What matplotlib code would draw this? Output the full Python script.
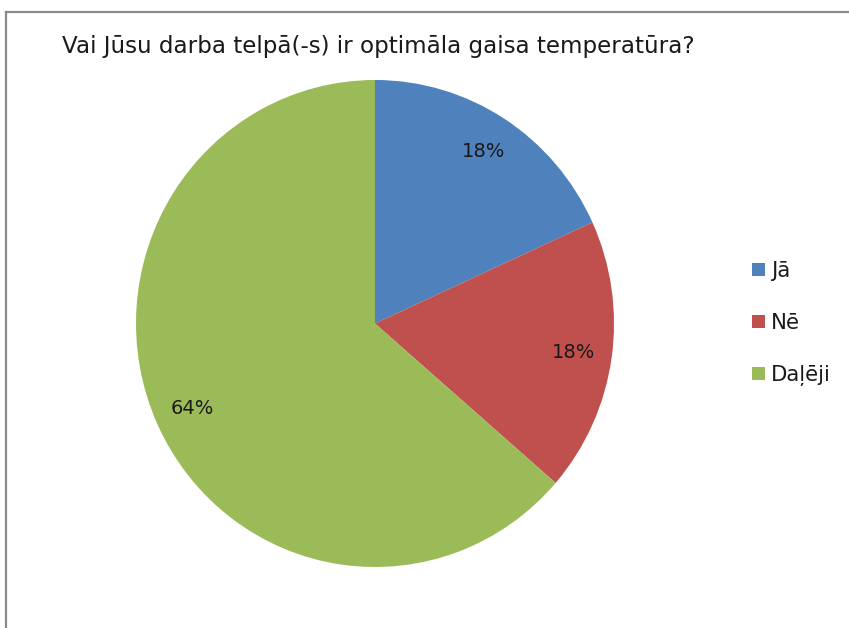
import numpy as np
import matplotlib
matplotlib.use("Agg")
import matplotlib.pyplot as plt
from matplotlib.lines import Line2D

# Chart data (counts read back from slice angles: 2 / 2 / 7)
labels = ["Jā", "Nē", "Daļēji"]
counts = [2, 2, 7]
colors = ["#4F81BD", "#C0504D", "#9BBB59"]
title = "Vai Jūsu darba telpā(-s) ir optimāla gaisa temperatūra?"

plt.rcParams['font.family'] = ['DejaVu Sans']

W, H = 849, 628
fig = plt.figure(figsize=(W/100, H/100), dpi=100)

# pie centre ~(375,323.5) px, the source image is slightly stretched vertically
cx, cy, rx, ry = 375, 323.5, 239, 243.5
ax = fig.add_axes([(cx - rx)/W, (H - cy - ry)/H, 2*rx/W, 2*ry/H])
wedges, texts, autotexts = ax.pie(counts, colors=colors, startangle=90, counterclock=False,
                                  autopct=lambda p: "%d%%" % round(p), pctdistance=0.84,
                                  radius=1.0, wedgeprops=dict(linewidth=0))
for t in autotexts:
    t.set_fontsize(14)
    t.set_color("#1a1a1a")
ax.set_xlim(-1, 1)
ax.set_ylim(-1, 1)
ax.set_aspect('auto')
ax.axis('off')

# title
fig.text(62/W, 1 - 53.5/H, title, fontsize=16.6, color="#1a1a1a", ha='left', va='baseline')

# legend
leg = fig.legend(wedges, labels, loc='upper left', bbox_to_anchor=(752/W, 1 - 261/H),
                 frameon=False, fontsize=15.3, handlelength=0.6, handleheight=0.6,
                 handletextpad=0.3, labelspacing=1.5, borderpad=0, borderaxespad=0)
for t in leg.get_texts():
    t.set_color("#1a1a1a")

# chart area border (left and top edges visible)
fig.add_artist(Line2D([5.5/W, 5.5/W], [0, 1 - 12/H], transform=fig.transFigure,
                      color="#8a8a8a", linewidth=1.6))
fig.add_artist(Line2D([5.5/W, 1], [1 - 12/H, 1 - 12/H], transform=fig.transFigure,
                      color="#8a8a8a", linewidth=1.6))

fig.savefig("out.png", dpi=100)
